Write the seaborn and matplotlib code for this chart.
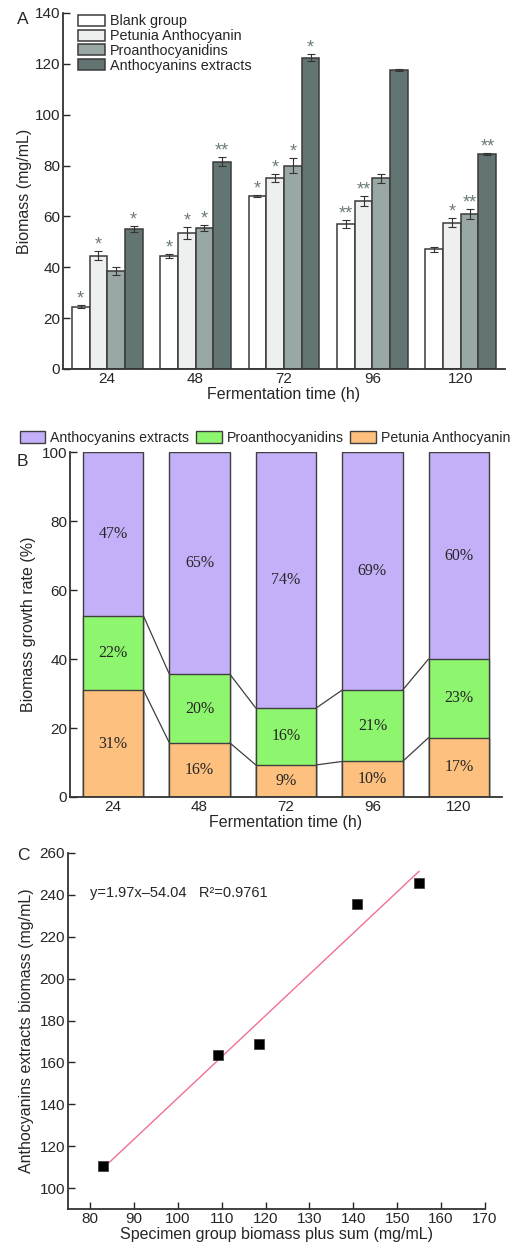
import numpy as np
import pandas as pd
import matplotlib
matplotlib.use("Agg")
import matplotlib.pyplot as plt
import seaborn as sns
from matplotlib.patches import Patch

sns.set_theme(style="white")
plt.rcParams['font.family'] = ['Liberation Sans', 'DejaVu Sans']

# ---------------- data ----------------
times = ["24", "48", "72", "96", "120"]
groups_a = ["Blank group", "Petunia Anthocyanin", "Proanthocyanidins", "Anthocyanins extracts"]
blank = [24.5, 44.5, 68.0, 57.0, 47.0]
petunia = [44.5, 53.5, 75.0, 66.0, 57.5]
proanth = [38.5, 55.5, 80.0, 75.0, 61.0]
extracts = [55.0, 81.5, 122.5, 117.5, 84.5]
err_blank = [0.5, 0.8, 0.3, 1.5, 0.8]
err_petunia = [1.8, 2.5, 1.5, 2.0, 1.8]
err_proanth = [1.5, 1.2, 3.0, 1.8, 2.0]
err_extracts = [1.2, 1.8, 1.2, 0.5, 0.5]
sig_blank = ["*", "*", "*", "**", ""]
sig_petunia = ["*", "*", "*", "**", "*"]
sig_proanth = ["", "*", "*", "", "**"]
sig_extracts = ["*", "**", "*", "", "**"]

# panel B (percent of biomass growth)
pct_petunia = [31.0, 15.7, 9.3, 10.3, 17.2]
pct_proanth = [21.5, 19.9, 16.5, 20.7, 22.8]
lab_petunia = ["31%", "16%", "9%", "10%", "17%"]
lab_proanth = ["22%", "20%", "16%", "21%", "23%"]
lab_extracts = ["47%", "65%", "74%", "69%", "60%"]

# panel C
spec_sum = [83.0, 109.2, 118.6, 140.9, 155.0]
extract_biomass = [110.3, 163.4, 168.8, 235.8, 245.6]
fit_slope, fit_intercept = 1.97, -54.04

# ---------------- figure ----------------
W, H = 515, 1249
fig = plt.figure(figsize=(W / 100, H / 100), dpi=100)

def fax(l, t, r, b):
    return fig.add_axes([l / W, 1 - b / H, (r - l) / W, (b - t) / H])

TICK = 11
LAB = 11.5
dark = "#333333"

# ============ Panel A ============
axA = fax(63, 13, 505, 369)
cols_a = ["#ffffff", "#eef0ef", "#9aa8a5", "#627572"]
dfA = pd.DataFrame({
    "time": times * 4,
    "group": sum([[g] * 5 for g in groups_a], []),
    "value": blank + petunia + proanth + extracts,
})
sns.barplot(data=dfA, x="time", y="value", hue="group", order=times, hue_order=groups_a,
            palette=cols_a, errorbar=None, width=0.8, edgecolor="#3a3a3a", linewidth=1.1,
            saturation=1, ax=axA)
errs = [err_blank, err_petunia, err_proanth, err_extracts]
sigs = [sig_blank, sig_petunia, sig_proanth, sig_extracts]
for cont, e, s in zip(axA.containers, errs, sigs):
    for bar, ee, ss in zip(cont, e, s):
        xc = bar.get_x() + bar.get_width() / 2
        top = bar.get_height()
        axA.errorbar(xc, top, yerr=ee, color=dark, capsize=3, elinewidth=0.8,
                     capthick=0.8, fmt="none")
        if ss:
            axA.text(xc, top + ee + 0.6, ss, ha="center", va="baseline",
                     fontsize=13, color="#6b7b79")
axA.set_xlim(-0.5, 4.5)
axA.set_ylim(0, 140)
axA.set_yticks(range(0, 141, 20))
axA.set_xlabel("Fermentation time (h)", fontsize=LAB, labelpad=1)
axA.set_ylabel("Biomass (mg/mL)", fontsize=LAB, labelpad=2)
axA.tick_params(axis="y", direction="in", length=5, width=1, labelsize=TICK, pad=2, left=True)
axA.tick_params(axis="x", length=0, labelsize=TICK, pad=2)
for sp in ["top", "right"]:
    axA.spines[sp].set_visible(False)
for sp in ["left", "bottom"]:
    axA.spines[sp].set_color(dark)
    axA.spines[sp].set_linewidth(1.3)
hA = [Patch(facecolor=c, edgecolor="#3a3a3a", linewidth=1.1) for c in cols_a]
axA.legend(hA, groups_a, loc="upper left", bbox_to_anchor=(0.03, 1.0), frameon=False,
           fontsize=10.4, handlelength=1.9, handleheight=0.8, handletextpad=0.35,
           labelspacing=0.05, borderaxespad=0, borderpad=0.1)
fig.text(17 / W, 1 - 20 / H, "A", fontsize=12.5, va="center", ha="left")

# ============ Panel B ============
axB = fax(70, 452, 502, 797)
col_pet, col_pro, col_ext = "#fdc07e", "#8ef56e", "#c4b0f8"
cum1 = list(np.array(pct_petunia))
cum2 = list(np.array(pct_petunia) + np.array(pct_proanth))
full = [100.0] * 5
dfB = pd.DataFrame({"time": times, "full": full, "cum2": cum2, "cum1": cum1})
for col, c in [("full", col_ext), ("cum2", col_pro), ("cum1", col_pet)]:
    sns.barplot(data=dfB, x="time", y=col, order=times, color=c, width=0.7,
                edgecolor="#3f3f3f", linewidth=1.0, saturation=1, errorbar=None, ax=axB)
hw = 0.35
for b in [cum1, cum2]:
    for i in range(4):
        axB.plot([i + hw, i + 1 - hw], [b[i], b[i + 1]], color="#3f3f3f", lw=0.9)
serif = ["Liberation Serif", "DejaVu Serif"]
PF = 11.5
for i in range(5):
    axB.text(i, cum1[i] / 2, lab_petunia[i], ha="center", va="center", fontsize=PF, family=serif)
    axB.text(i, (cum1[i] + cum2[i]) / 2, lab_proanth[i], ha="center", va="center", fontsize=PF, family=serif)
    axB.text(i, (cum2[i] + 100) / 2, lab_extracts[i], ha="center", va="center", fontsize=PF, family=serif)
axB.set_xlim(-0.5, 4.5)
axB.set_ylim(0, 100)
axB.set_yticks(range(0, 101, 20))
axB.set_xlabel("Fermentation time (h)", fontsize=LAB, labelpad=1)
axB.set_ylabel("Biomass growth rate (%)", fontsize=LAB, labelpad=4)
axB.tick_params(axis="y", direction="in", length=5, width=1, labelsize=TICK, pad=2, left=True)
axB.tick_params(axis="x", length=0, labelsize=TICK, pad=2)
for sp in ["top", "right"]:
    axB.spines[sp].set_visible(False)
for sp in ["left", "bottom"]:
    axB.spines[sp].set_color(dark)
    axB.spines[sp].set_linewidth(1.3)
hB = [Patch(facecolor=c, edgecolor="#3f3f3f", linewidth=1.0) for c in (col_ext, col_pro, col_pet)]
fig.legend(hB, ["Anthocyanins extracts", "Proanthocyanidins", "Petunia Anthocyanin"],
           loc="center", bbox_to_anchor=(265 / W, 1 - 438 / H), ncol=3, frameon=False,
           fontsize=10.2, handlelength=1.8, handleheight=0.9, handletextpad=0.33,
           columnspacing=0.5, borderpad=0)
fig.text(17 / W, 1 - 462 / H, "B", fontsize=12.5, va="center", ha="left")

# ============ Panel C ============
axC = fax(68, 853, 485, 1209)
dfC = pd.DataFrame({"x": spec_sum, "y": extract_biomass})
xfit = np.array([min(spec_sum), max(spec_sum)])
dfFit = pd.DataFrame({"x": xfit, "y": fit_slope * xfit + fit_intercept})
sns.lineplot(data=dfFit, x="x", y="y", color="#f07090", lw=1.0, ax=axC)
sns.scatterplot(data=dfC, x="x", y="y", marker="s", color="black", s=42,
                edgecolor="#333333", linewidth=0.5, ax=axC, zorder=3)
axC.set_xlim(75, 170)
axC.set_ylim(90, 260)
axC.set_xticks(range(80, 171, 10))
axC.set_yticks(range(100, 261, 20))
axC.set_xlabel("Specimen group biomass plus sum (mg/mL)", fontsize=LAB, labelpad=1)
axC.set_ylabel("Anthocyanins extracts biomass (mg/mL)", fontsize=LAB, labelpad=4)
axC.tick_params(axis="both", direction="in", length=5, width=1, labelsize=TICK, pad=2,
                left=True, bottom=True)
for sp in ["top", "right"]:
    axC.spines[sp].set_visible(False)
for sp in ["left", "bottom"]:
    axC.spines[sp].set_color(dark)
    axC.spines[sp].set_linewidth(1.3)
axC.text(80, 241, "y=1.97x\u201354.04   R\u00b2=0.9761", fontsize=10.5, va="center", ha="left")
fig.text(17 / W, 1 - 855 / H, "C", fontsize=12.5, va="center", ha="left")

fig.savefig("out.png", dpi=100)
